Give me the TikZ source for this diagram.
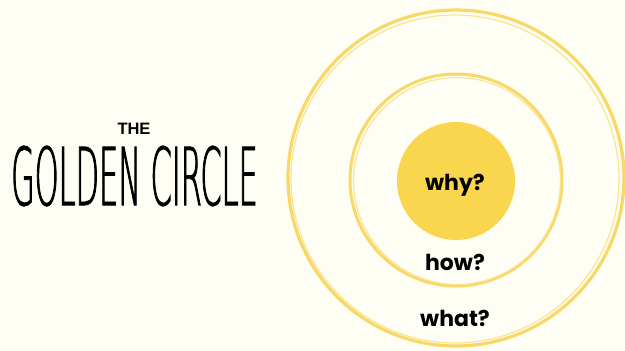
\documentclass[tikz,border=0pt]{standalone}
\usepackage{fontspec}
\setmainfont{Liberation Sans}
\newfontfamily\thinfont[FakeStretch=0.38,FakeBold=1]{DejaVuSans-ExtraLight.ttf}
\newfontfamily\qfont{Poppins}
\definecolor{bgcream}{HTML}{FFFEF5}
\definecolor{gold}{HTML}{FAD54E}
\definecolor{ringgold}{HTML}{F8D866}
\begin{document}
\begin{tikzpicture}[x=1pt,y=-1pt,
  ring/.style={draw=ringgold,line width=3.2pt},
  thinring/.style={draw=ringgold!70!white,line width=1.2pt},
  qlabel/.style={font=\qfont\bfseries\fontsize{22}{24}\selectfont,text=black,inner sep=0pt}]
  \fill[bgcream] (0,0) rectangle (625,351);
  \useasboundingbox (0,0) rectangle (625,351);
  % circles
  \node[ring,circle,minimum size=336pt,inner sep=0pt] (outer) at (456,178) {};
  \draw[thinring] (455,179) circle[radius=164];
  \node[ring,circle,minimum size=212pt,inner sep=0pt,line width=3pt] (middle) at (456,180) {};
  \draw[thinring] (457,181) circle[radius=103.5];
  \node[circle,fill=gold,minimum size=118pt,inner sep=0pt] (inner) at (456,181) {};
  % labels
  \node[qlabel] (why) at (455,185) {why?};
  \node[qlabel] (how) at (455,262) {how?};
  \node[qlabel] (what) at (455,318) {what?};
  % title
  \node[font=\bfseries\fontsize{16.5}{18}\selectfont,inner sep=0pt] (the) at (134,129) {THE};
  \node[font=\thinfont\fontsize{80}{80}\selectfont,inner sep=0pt,anchor=center] (gc) at (134.5,176) {GOLDEN CIRCLE};
\end{tikzpicture}
\end{document}
